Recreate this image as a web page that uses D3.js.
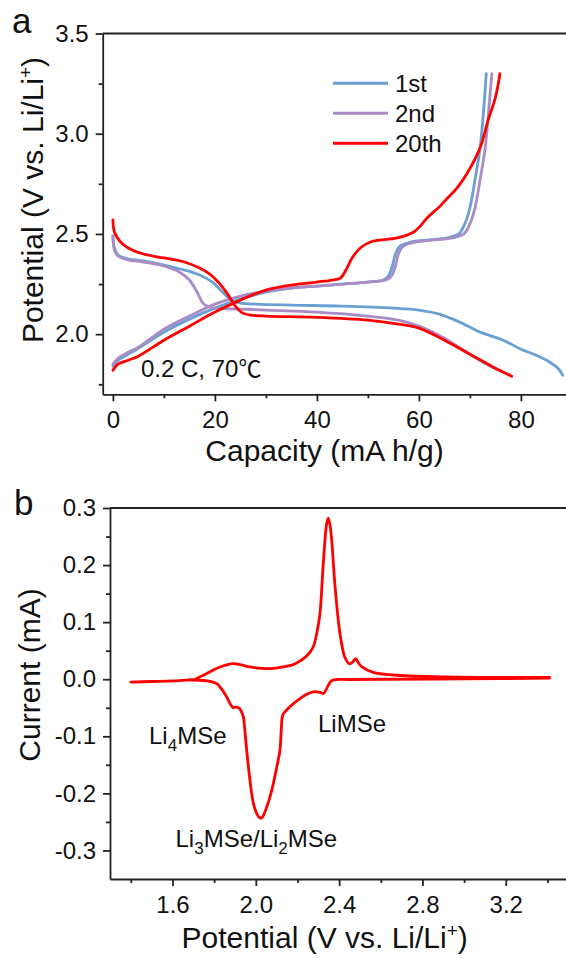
<!DOCTYPE html>
<html>
<head>
<meta charset="utf-8">
<script src="https://cdn.jsdelivr.net/npm/d3@7"></script>
<style>
  html, body { margin: 0; padding: 0; background: #fff; }
  svg { display: block; font-family: "Liberation Sans", Arial, sans-serif; }
</style>
</head>
<body>
<div id="chart"></div>
<script>
// ---- panel a : charge / discharge profiles, [capacity mA h/g, potential V] ----
var dis1st = [[0,2.49],[0.3,2.43],[1,2.395],[3,2.375],[6,2.365],[10,2.345],[14,2.32],[17,2.295],[19.5,2.26],[21.5,2.21],[23,2.175],[25,2.155],[28,2.15],[35,2.145],[45,2.14],[55,2.13],[60,2.12],[64,2.1],[68,2.06],[72,2.01],[76.5,1.97],[80,1.925],[83,1.895],[85.7,1.86],[87.4,1.826],[88.2,1.795]];
var dis2nd = [[0,2.49],[0.3,2.42],[1,2.39],[3,2.37],[6,2.36],[10,2.34],[13,2.31],[15,2.27],[16.5,2.21],[17.8,2.15],[19,2.135],[21,2.128],[25,2.125],[30,2.12],[40,2.11],[50,2.09],[56,2.07],[60,2.04],[65,1.98],[70,1.9],[74,1.84],[77.7,1.8]];
var dis20th = [[0,2.57],[0.3,2.51],[1.5,2.46],[3,2.43],[6,2.40],[10,2.38],[14,2.36],[17,2.33],[19,2.30],[21,2.25],[22.5,2.2],[24,2.14],[25.5,2.105],[27,2.095],[30,2.09],[40,2.084],[50,2.07],[56,2.05],[60,2.03],[65,1.97],[70,1.90],[75,1.83],[78.2,1.79]];
var chg1st = [[0,1.84],[1,1.87],[3,1.9],[5,1.93],[10,2.01],[15,2.075],[20,2.13],[25,2.175],[30,2.21],[35,2.23],[40,2.24],[45,2.25],[50,2.26],[53,2.27],[54,2.29],[54.8,2.34],[55.4,2.40],[56.3,2.44],[58.5,2.46],[62,2.47],[65.5,2.48],[67.8,2.50],[69,2.55],[70,2.63],[71,2.77],[72,2.93],[72.7,3.12],[73.2,3.30]];
var chg2nd = [[0,1.85],[1,1.88],[3,1.91],[5,1.935],[10,2.025],[15,2.09],[20,2.15],[25,2.19],[30,2.215],[35,2.23],[40,2.24],[45,2.25],[50,2.26],[53.5,2.27],[54.6,2.29],[55.4,2.34],[56,2.40],[57,2.44],[59.5,2.46],[63,2.47],[66.5,2.48],[68.8,2.50],[70,2.55],[71,2.63],[72,2.77],[73,2.93],[73.7,3.12],[74.3,3.30]];
var chg20th = [[0,1.82],[1,1.85],[3,1.87],[5,1.89],[10,1.97],[15,2.04],[20,2.11],[25,2.17],[30,2.22],[35,2.245],[40,2.26],[43,2.27],[44.6,2.28],[45.9,2.33],[46.9,2.38],[48.5,2.43],[50.5,2.46],[55.7,2.48],[59,2.51],[60.3,2.54],[61.6,2.58],[64.2,2.64],[65.5,2.676],[67.5,2.73],[69.4,2.80],[72,2.93],[73.6,3.07],[75,3.18],[75.9,3.30]];

var cycleNames = ["1st", "2nd", "20th"];
var cycleColors = ["#6a9fd4", "#a98cc6", "#ff0000"];

var capTicks = [0, 20, 40, 60, 80];
var capMinor = [10, 30, 50, 70, 90];
var potTicks = [2.0, 2.5, 3.0, 3.5];
var potMinor = [1.75, 2.25, 2.75, 3.25];

// ---- panel b : cyclic voltammogram, [potential V, current mA] ----
var cvAnodic = [[1.40,-0.005],[1.5,-0.004],[1.6,-0.003],[1.68,-0.001],[1.70,-0.001],[1.764,0.010],[1.828,0.0215],[1.892,0.0275],[1.93,0.025],[1.972,0.0215],[2.03,0.019],[2.084,0.019],[2.12,0.021],[2.18,0.0255],[2.212,0.032],[2.25,0.043],[2.276,0.057],[2.295,0.085],[2.308,0.115],[2.324,0.203],[2.34,0.272],[2.348,0.282],[2.356,0.27],[2.364,0.245],[2.38,0.165],[2.404,0.08],[2.428,0.038],[2.45,0.027],[2.467,0.031],[2.48,0.036],[2.492,0.029],[2.508,0.022],[2.564,0.012],[2.676,0.007],[2.916,0.004],[3.41,0.003]];
var cvCathodic = [[3.41,0.002],[3.0,0.0005],[2.6,0.0],[2.45,-0.0005],[2.372,-0.001],[2.36,-0.004],[2.348,-0.0105],[2.332,-0.022],[2.324,-0.025],[2.308,-0.023],[2.276,-0.022],[2.24,-0.027],[2.212,-0.034],[2.17,-0.046],[2.148,-0.054],[2.13,-0.062],[2.122,-0.09],[2.116,-0.124],[2.1,-0.155],[2.084,-0.183],[2.065,-0.21],[2.052,-0.224],[2.04,-0.236],[2.028,-0.243],[2.016,-0.242],[2.004,-0.235],[1.99,-0.22],[1.98,-0.2],[1.968,-0.165],[1.956,-0.124],[1.945,-0.08],[1.94,-0.066],[1.921,-0.051],[1.9,-0.049],[1.892,-0.05],[1.875,-0.042],[1.86,-0.031],[1.835,-0.017],[1.812,-0.0075],[1.77,-0.003],[1.732,-0.002],[1.68,-0.001]];

var cvPotTicks = [1.6, 2.0, 2.4, 2.8, 3.2];
var cvPotMinor = [1.4, 1.8, 2.2, 2.6, 3.0, 3.4];
var curTicks = [-0.3, -0.2, -0.1, 0.0, 0.1, 0.2, 0.3];
var curMinor = [-0.25, -0.15, -0.05, 0.05, 0.15, 0.25];

var W = 566, H = 959;
var axisColor = "#222";

var svg = d3.select("#chart").append("svg")
    .attr("width", W)
    .attr("height", H);
svg.append("rect").attr("width", W).attr("height", H).attr("fill", "#fff");

// draws a major + minor axis pair and styles it
function drawAxis(g, axisFn, scale, major, minor, fmt, pad) {
    g.append("g")
        .call(axisFn(scale).tickValues(minor).tickSize(4).tickSizeOuter(0).tickFormat(""))
        .call(function (s) { s.select(".domain").remove(); });
    g.append("g")
        .call(axisFn(scale).tickValues(major).tickSize(7).tickSizeOuter(0).tickPadding(pad).tickFormat(fmt));
    g.selectAll("path, line").attr("stroke", axisColor).attr("stroke-width", 1.8);
    g.selectAll("text").attr("fill", "#111").style("font-size", "24px")
        .style("font-family", '"Liberation Sans", Arial, sans-serif');
}

function fmt1(d) { return d.toFixed(1); }

// ================= panel a =================
var ax = d3.scaleLinear().domain([-2, 90]).range([102.7, 102.7 + 92 * 5.1]);
var ay = d3.scaleLinear().domain([1.7, 3.5]).range([394.3, 33.5]);

var gA = svg.append("g");
drawAxis(gA.append("g").attr("transform", "translate(0," + ay(1.7) + ")"), d3.axisBottom, ax, capTicks, capMinor, d3.format("d"), 10);
drawAxis(gA.append("g").attr("transform", "translate(" + ax(-2) + ",0)"), d3.axisLeft, ay, potTicks, potMinor, fmt1, 7);
gA.append("line")
    .attr("x1", ax(-2)).attr("x2", W)
    .attr("y1", ay(3.5)).attr("y2", ay(3.5))
    .attr("stroke", axisColor).attr("stroke-width", 1.8);

var lineA = d3.line()
    .x(function (d) { return ax(d[0]); })
    .y(function (d) { return ay(d[1]); })
    .curve(d3.curveCatmullRom.alpha(0.5));

var profiles = [[dis1st, chg1st], [dis2nd, chg2nd], [dis20th, chg20th]];
profiles.forEach(function (pair, i) {
    pair.forEach(function (arr) {
        gA.append("path")
            .datum(arr)
            .attr("d", lineA)
            .attr("fill", "none")
            .attr("stroke", cycleColors[i])
            .attr("stroke-width", 2.8)
            .attr("stroke-linejoin", "round")
            .attr("stroke-linecap", "round");
    });
});

// legend
var legend = gA.append("g");
cycleNames.forEach(function (name, i) {
    var y = 83.3 + i * 30;
    legend.append("line")
        .attr("x1", 333).attr("x2", 388)
        .attr("y1", y).attr("y2", y)
        .attr("stroke", cycleColors[i]).attr("stroke-width", 3);
    legend.append("text")
        .attr("x", 395).attr("y", y + 9)
        .style("font-size", "24px")
        .attr("fill", "#111")
        .text(name);
});

var cond = gA.append("text")
    .attr("x", 141).attr("y", 377)
    .style("font-size", "24px")
    .attr("fill", "#111");
cond.append("tspan").text("0.2 C, 70");
cond.append("tspan").style("font-family", '"Noto Sans CJK SC"').style("font-size", "23px").text("℃");

gA.append("text")
    .attr("x", 324.5).attr("y", 461)
    .attr("text-anchor", "middle")
    .style("font-size", "30px")
    .attr("fill", "#111")
    .text("Capacity (mA h/g)");

var ylabA = gA.append("text")
    .attr("transform", "translate(43,200) rotate(-90)")
    .attr("text-anchor", "middle")
    .style("font-size", "30px")
    .attr("fill", "#111");
ylabA.append("tspan").text("Potential (V vs. Li/Li");
ylabA.append("tspan").attr("dy", "-11").style("font-size", "19px").text("+");
ylabA.append("tspan").attr("dy", "11").text(")");

svg.append("text").attr("x", 12).attr("y", 33)
    .style("font-size", "35px").attr("fill", "#111").text("a");

// ================= panel b =================
var bx = d3.scaleLinear().domain([1.3, 3.5]).range([110, 110 + 2.2 * 208.3]);
var by = d3.scaleLinear().domain([-0.35, 0.3]).range([879, 508]);

var gB = svg.append("g");
drawAxis(gB.append("g").attr("transform", "translate(0," + by(-0.35) + ")"), d3.axisBottom, bx, cvPotTicks, cvPotMinor, fmt1, 10);
drawAxis(gB.append("g").attr("transform", "translate(" + bx(1.3) + ",0)"), d3.axisLeft, by, curTicks, curMinor, fmt1, 7);
gB.append("line")
    .attr("x1", bx(1.3)).attr("x2", W)
    .attr("y1", by(0.3)).attr("y2", by(0.3))
    .attr("stroke", axisColor).attr("stroke-width", 1.8);

var lineB = d3.line()
    .x(function (d) { return bx(d[0]); })
    .y(function (d) { return by(d[1]); })
    .curve(d3.curveCatmullRom.alpha(0.5));

[cvAnodic, cvCathodic].forEach(function (arr) {
    gB.append("path")
        .datum(arr)
        .attr("d", lineB)
        .attr("fill", "none")
        .attr("stroke", "#ff0000")
        .attr("stroke-width", 2.8)
        .attr("stroke-linejoin", "round")
        .attr("stroke-linecap", "round");
});

// peak labels, subscript digits as tspans (shift in px so it resets cleanly)
function chemLabel(x, y, parts) {
    var t = gB.append("text").attr("x", x).attr("y", y)
        .style("font-size", "24px").attr("fill", "#111");
    var shifted = false;
    parts.forEach(function (p) {
        if (typeof p === "string") {
            t.append("tspan").attr("dy", shifted ? -7 : 0).text(p);
            shifted = false;
        } else {
            t.append("tspan").attr("dy", 7).style("font-size", "17px").text(p[0]);
            shifted = true;
        }
    });
}
chemLabel(149, 744, ["Li", ["4"], "MSe"]);
chemLabel(318, 732, ["LiMSe"]);
chemLabel(175.5, 846.5, ["Li", ["3"], "MSe/Li", ["2"], "MSe"]);

var xlabB = gB.append("text")
    .attr("x", 324.7).attr("y", 948)
    .attr("text-anchor", "middle")
    .style("font-size", "30px")
    .attr("fill", "#111");
xlabB.append("tspan").text("Potential (V vs. Li/Li");
xlabB.append("tspan").attr("dy", "-11").style("font-size", "19px").text("+");
xlabB.append("tspan").attr("dy", "11").text(")");

gB.append("text")
    .attr("transform", "translate(40,675) rotate(-90)")
    .attr("text-anchor", "middle")
    .style("font-size", "30px")
    .attr("fill", "#111")
    .text("Current (mA)");

svg.append("text").attr("x", 14).attr("y", 515)
    .style("font-size", "35px").attr("fill", "#111").text("b");
</script>
</body>
</html>
